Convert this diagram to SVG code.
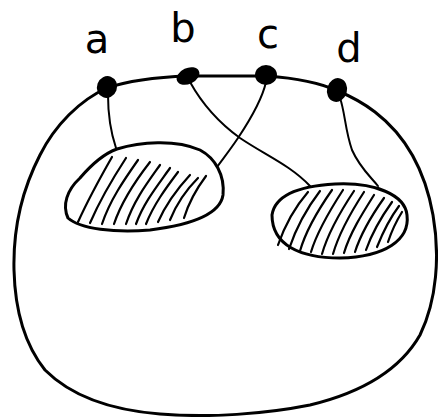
<svg xmlns="http://www.w3.org/2000/svg" width="438" height="417" viewBox="0 0 438 417">
<style>
.outline{fill:none;stroke:#000;stroke-width:3;stroke-linecap:round;stroke-linejoin:round}
.conn{fill:none;stroke:#000;stroke-width:2;stroke-linecap:round}
.hatch{fill:none;stroke:#000;stroke-width:2.2;stroke-linecap:round}
.dot{fill:#000}
.lbl{font-family:"DejaVu Sans",sans-serif;font-size:40px;fill:#000;text-anchor:middle}
</style>
<rect width="438" height="417" fill="#fff"/>
<g id="region">
<path class="outline" d="M107,88 C80,100 55,125 40,155 C22,190 13,230 14,270 C15,310 25,345 45,370 C70,395 110,410 160,414 C210,418 265,414 310,405 C360,393 400,370 420,335 C437,300 440,255 433,215 C425,170 405,135 375,112 C362,102 350,96 338,91 C318,82 295,78 267,76 L188,76 C160,77 130,80 107,88 Z"/>
</g>
<g id="labels">
<text class="lbl" x="97" y="53">a</text>
<text class="lbl" x="183" y="42">b</text>
<text class="lbl" x="268" y="48">c</text>
<text class="lbl" x="349" y="62">d</text>
</g>
<g id="connectors">
<path class="conn" d="M108,95 C108,112 110,130 116,148"/>
<path class="conn" d="M190,82 C200,100 215,120 240,138 C265,155 290,165 310,186"/>
<path class="conn" d="M266,82 C262,100 250,120 238,138 C230,150 222,160 217,167"/>
<path class="conn" d="M340,98 C345,112 345,130 352,150 C360,168 370,176 378,186"/>
</g>
<g id="blob1">
<path class="outline" d="M117,149 C140,142 175,139 200,150 C215,158 225,175 223,195 C220,215 190,225 150,230 C115,233 80,229 68,218 C62,205 67,190 80,178 C92,164 103,154 117,149 Z"/>
<g class="hatch">
<path d="M78,222 C88,200 100,178 112,157"/>
<path d="M90,223 C100,200 113,178 126,158"/>
<path d="M102,224 C110,200 124,180 138,160"/>
<path d="M114,224 C122,200 136,180 150,162"/>
<path d="M126,224 C134,200 148,182 160,165"/>
<path d="M136,224 C144,202 158,185 170,168"/>
<path d="M146,224 C154,204 166,188 178,172"/>
<path d="M158,222 C166,204 178,188 190,175"/>
<path d="M170,220 C176,205 186,190 198,178"/>
<path d="M184,218 C188,205 194,192 206,176"/>
</g>
</g>
<g id="blob2">
<path class="outline" d="M272,215 C275,195 300,186 335,184 C375,182 405,195 407,215 C410,240 385,257 340,258 C300,258 272,245 272,215 Z"/>
<g class="hatch">
<path d="M278,245 C285,225 295,207 308,192"/>
<path d="M289,249 C296,228 307,208 320,191"/>
<path d="M300,251 C306,230 318,210 332,190"/>
<path d="M311,252 C317,232 330,210 343,190"/>
<path d="M322,254 C328,233 340,212 354,191"/>
<path d="M333,254 C339,233 351,212 364,192"/>
<path d="M344,253 C350,233 362,214 374,195"/>
<path d="M355,252 C361,233 372,215 384,198"/>
<path d="M366,250 C372,233 382,216 392,202"/>
<path d="M377,247 C383,232 390,218 399,206"/>
<path d="M388,242 C392,230 397,220 402,212"/>
</g>
</g>
<g id="node-a"><ellipse class="dot" cx="107" cy="87" rx="10" ry="11" transform="rotate(20 107 87)"/></g>
<g id="node-b"><ellipse class="dot" cx="188" cy="76" rx="12" ry="8" transform="rotate(-25 188 76)"/></g>
<g id="node-c"><ellipse class="dot" cx="266" cy="75" rx="11" ry="10"/></g>
<g id="node-d"><ellipse class="dot" cx="337" cy="90" rx="10" ry="12" transform="rotate(15 337 90)"/></g>
</svg>
